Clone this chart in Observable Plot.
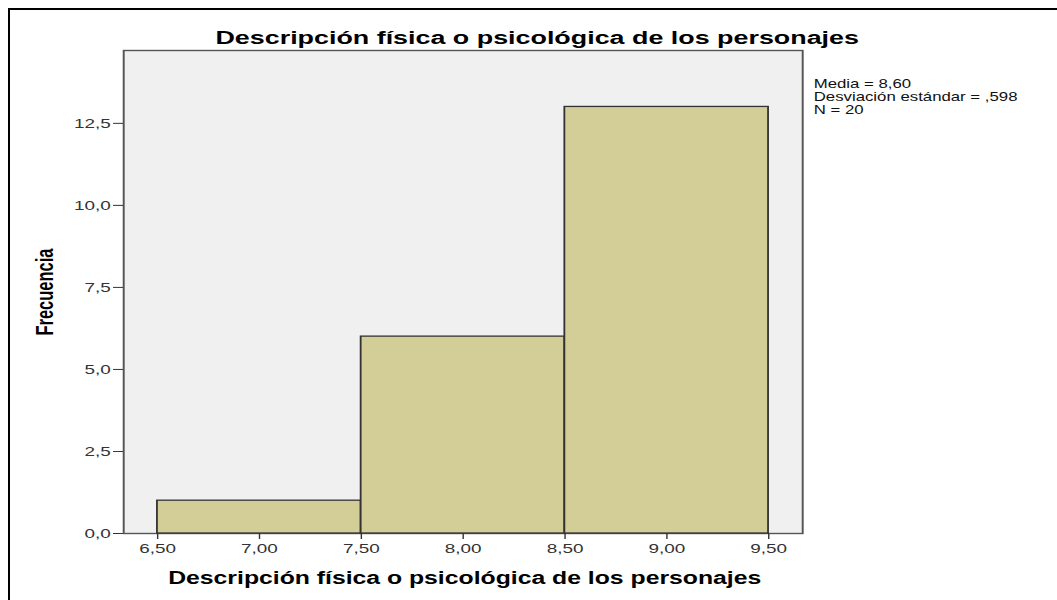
<!DOCTYPE html>
<html><head><meta charset="utf-8">
<script src="https://cdn.jsdelivr.net/npm/d3@7"></script>
<script src="https://cdn.jsdelivr.net/npm/@observablehq/plot@0.6"></script>
<style>
html,body{margin:0;padding:0;background:#fff;overflow:hidden;width:1057px;height:600px;}
#frame{position:absolute;left:8px;top:8px;width:1200px;height:800px;border-left:2px solid #000;border-top:2px solid #000;}
#chart{position:absolute;left:0;top:0;}
#chart svg{transform:scaleX(1.4);transform-origin:0 0;display:block;}
</style></head>
<body><div id="frame"></div><div id="chart"></div>
<script>
// Data
const binStart = [6.5, 7.5, 8.5];
const binEnd = [7.5, 8.5, 9.5];
const frequency = [1, 6, 13];
const xTicks = [6.5, 7, 7.5, 8, 8.5, 9, 9.5];
const yTicks = [0, 2.5, 5, 7.5, 10, 12.5];
const chartTitle = "Descripción física o psicológica de los personajes";
const xLabel = "Descripción física o psicológica de los personajes";
const yLabel = "Frecuencia";
const statsLines = ["Media = 8,60", "Desviación estándar = ,598", "N = 20"];

const S = 1.4; // horizontal stretch of the original picture
const bins = binStart.map((s, i) => ({x1: s, x2: binEnd[i], y: frequency[i]}));
const font = "'Liberation Sans', Arial, sans-serif";
const W = 1057 / S;
const mL = 123 / S, mR = (1057 - 802) / S;
const frameCenter = (mL + (W - mR)) / 2;

const plot = Plot.plot({
  width: W, height: 600,
  marginLeft: mL, marginRight: mR, marginTop: 50, marginBottom: 67,
  style: {fontFamily: font, background: "transparent", overflow: "visible"},
  x: {domain: [6.5 - 1/6, 9.5 + 1/6]},
  y: {domain: [0, 14.72]},
  marks: [
    Plot.frame({fill: "#f0f0f0", stroke: "#555", strokeWidth: 1.4}),
    Plot.rectY(bins, {x1: "x1", x2: "x2", y: "y", fill: "#d3ce98", stroke: "#333", strokeWidth: 1.3}),
    Plot.axisX({ticks: xTicks, tickFormat: d => d.toFixed(2).replace(".", ","), tickSize: 6, tickPadding: 4,
      fontSize: 13.5, color: "#333", label: null}),
    Plot.axisY({ticks: yTicks, tickFormat: d => d.toFixed(1).replace(".", ","), tickSize: 10 / S, tickPadding: 3 / S,
      fontSize: 13.5, color: "#333", label: null}),
    Plot.text([chartTitle], {text: d => d, frameAnchor: "top", textAnchor: "middle", lineAnchor: "bottom",
      dy: -7, dx: 536.5 / S - frameCenter, fontSize: 19.2, fontWeight: "bold", fill: "#000"}),
    Plot.text([xLabel], {text: d => d, frameAnchor: "bottom", textAnchor: "middle", lineAnchor: "bottom",
      dy: 50, dx: 464 / S - frameCenter, fontSize: 17.7, fontWeight: "bold", fill: "#000"}),
    Plot.text([yLabel], {text: d => d, frameAnchor: "left", textAnchor: "middle", lineAnchor: "middle",
      rotate: -90, dx: 44.5 / S - mL, fontSize: 16.5, fontWeight: "bold", fill: "#000"}),
    Plot.text([statsLines.join("\n")], {text: d => d, frameAnchor: "top-right", textAnchor: "start", lineAnchor: "top",
      dx: 813 / S - (W - mR), dy: 29, fontSize: 12, lineHeight: 1.05, fill: "#111"})
  ]
});
document.getElementById("chart").appendChild(plot);
</script>
</body></html>
